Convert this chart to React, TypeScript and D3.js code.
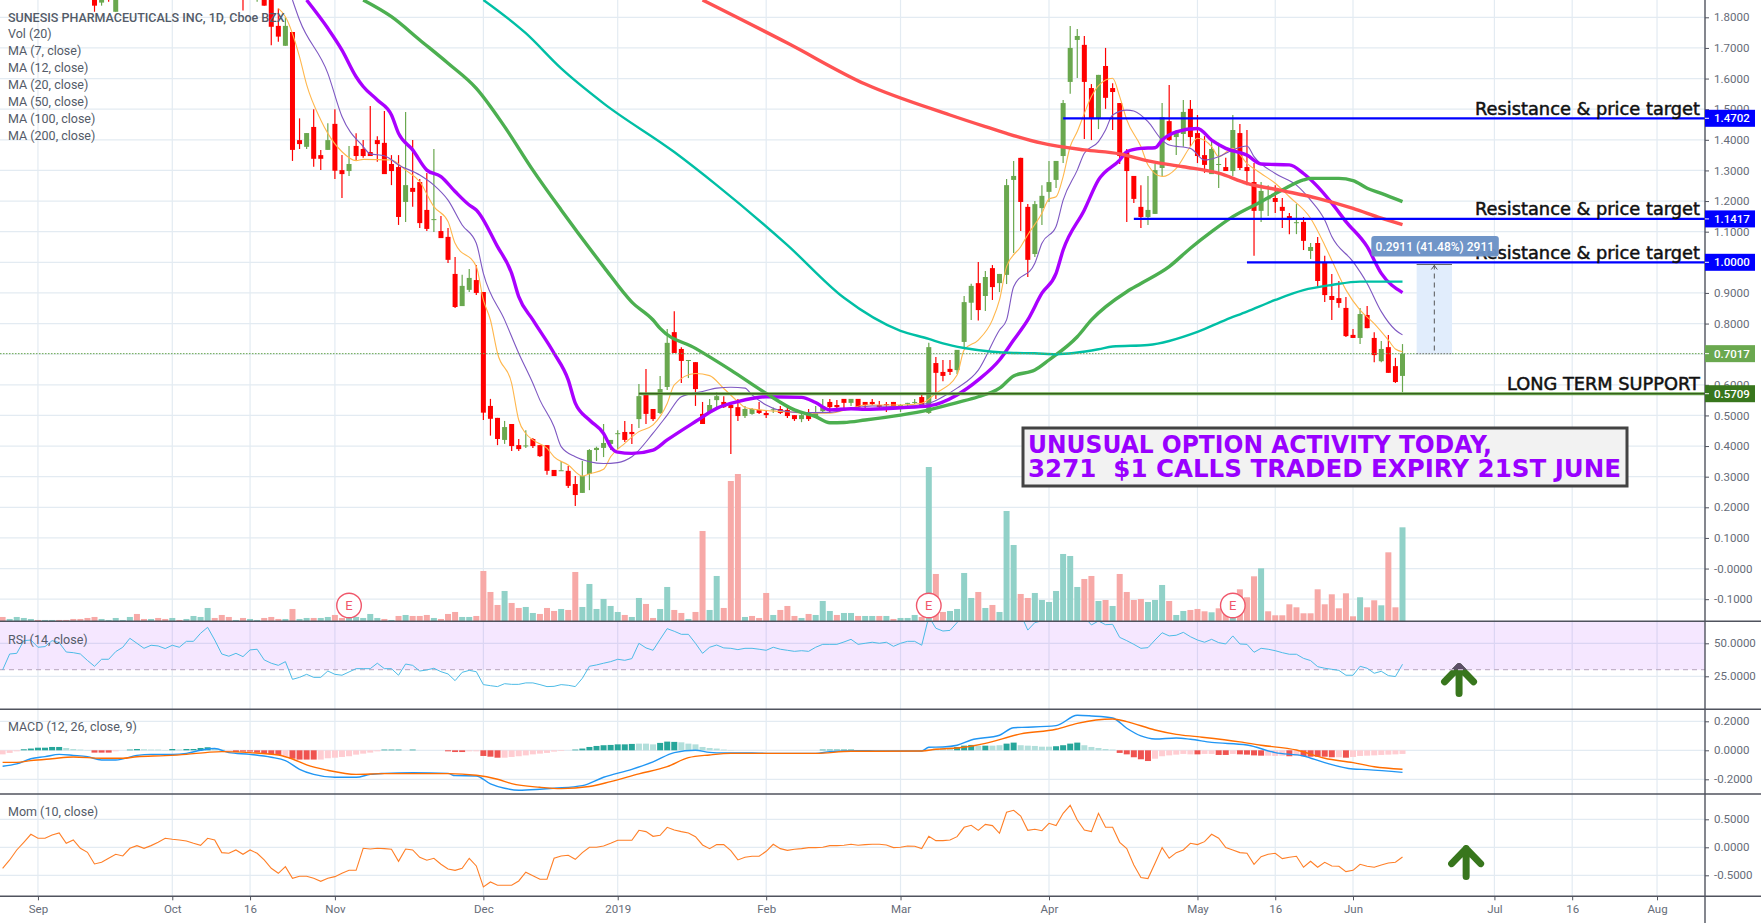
import { useEffect, useRef } from "react";
import * as d3 from "d3";

// [bar, open, high, low, close]; bars before these sit above the visible range
const candlesAutumn = [
  [13,1.87,1.88,1.818,1.838],[14,1.848,1.88,1.838,1.87],[15,1.87,1.88,1.851,1.865],[16,1.818,1.9,1.818,1.88],
  [34,1.95,1.96,1.822,1.87],[36,1.87,1.93,1.851,1.92],[37,1.92,1.93,1.838,1.838],[38,1.87,1.88,1.709,1.769],
  [39,1.772,1.829,1.72,1.737],[40,1.707,1.8,1.707,1.772],[41,1.752,1.752,1.331,1.367],[42,1.399,1.47,1.37,1.386],
  [43,1.377,1.422,1.37,1.422],[44,1.442,1.5,1.312,1.338],[45,1.35,1.367,1.301,1.338],[46,1.367,1.454,1.367,1.399],
  [47,1.452,1.5,1.272,1.299],[48,1.301,1.35,1.21,1.288],[49,1.298,1.38,1.282,1.321],[50,1.38,1.421,1.334,1.347],
  [51,1.37,1.399,1.341,1.347],[52,1.36,1.51,1.347,1.347],[53,1.399,1.412,1.328,1.386],[54,1.39,1.494,1.288,1.288],
  [55,1.321,1.35,1.252,1.298],[56,1.311,1.35,1.122,1.148],[57,1.197,1.491,1.132,1.252],[58,1.243,1.399,1.181,1.23],
  [59,1.262,1.272,1.112,1.128],[60,1.171,1.292,1.102,1.109],[61,1.139,1.37,1.099,1.141],[62,1.102,1.151,1.079,1.079],
  [63,1.083,1.112,0.998,1.008],[64,0.962,1.017,0.851,0.854],[65,0.857,0.959,0.857,0.923],[66,0.91,0.978,0.903,0.949],
  [67,0.942,0.991,0.893,0.9],
];
const candlesWinter = [
  [68,0.903,0.903,0.485,0.509],[69,0.531,0.554,0.434,0.489],[70,0.492,0.492,0.403,0.423],[71,0.42,0.482,0.407,0.462],
  [72,0.472,0.472,0.384,0.4],[73,0.403,0.423,0.384,0.39],[74,0.4,0.452,0.394,0.402],[75,0.423,0.426,0.394,0.4],
  [76,0.403,0.403,0.364,0.367],[77,0.403,0.403,0.306,0.319],[78,0.322,0.322,0.302,0.302],[79,0.319,0.351,0.319,0.321],
  [80,0.319,0.335,0.263,0.27],[81,0.276,0.302,0.204,0.24],[82,0.247,0.351,0.247,0.302],[83,0.309,0.39,0.256,0.387],
  [84,0.387,0.398,0.351,0.394],[85,0.394,0.472,0.364,0.41],[86,0.407,0.42,0.387,0.42],[87,0.439,0.452,0.39,0.442],
  [88,0.446,0.482,0.413,0.42],[89,0.446,0.472,0.407,0.439],[90,0.488,0.603,0.459,0.563],[91,0.573,0.652,0.472,0.505],
  [92,0.521,0.521,0.482,0.488],[93,0.508,0.629,0.505,0.586],[94,0.593,0.782,0.583,0.737],[95,0.772,0.84,0.704,0.704],
  [96,0.717,0.723,0.606,0.678],[97,0.679,0.681,0.622,0.681],[98,0.674,0.674,0.531,0.586],[99,0.505,0.544,0.472,0.472],
  [100,0.508,0.554,0.508,0.534],[101,0.55,0.576,0.521,0.563],[102,0.544,0.563,0.524,0.527],[103,0.534,0.539,0.374,0.524],
  [104,0.527,0.554,0.482,0.498],[105,0.498,0.531,0.492,0.521],[106,0.505,0.524,0.502,0.521],[107,0.518,0.544,0.505,0.508],
  [108,0.508,0.518,0.492,0.501],[109,0.518,0.526,0.508,0.52],[110,0.521,0.531,0.505,0.508],[111,0.518,0.534,0.492,0.498],
  [112,0.501,0.501,0.482,0.488],[113,0.488,0.505,0.478,0.501],[114,0.508,0.521,0.482,0.488],[115,0.498,0.531,0.498,0.508],
  [116,0.514,0.554,0.511,0.531],[117,0.544,0.554,0.511,0.527],[118,0.534,0.55,0.521,0.527],[119,0.554,0.554,0.521,0.541],
  [120,0.541,0.554,0.531,0.554],[121,0.554,0.554,0.521,0.527],[122,0.544,0.544,0.521,0.534],[123,0.544,0.554,0.534,0.537],
  [124,0.534,0.547,0.521,0.527],[125,0.537,0.544,0.511,0.534],[126,0.544,0.544,0.521,0.521],[127,0.521,0.537,0.511,0.534],
  [128,0.539,0.541,0.524,0.541],[129,0.541,0.554,0.537,0.544],[130,0.56,0.57,0.524,0.527],
];
const candlesSpring = [
  [131,0.508,0.737,0.505,0.723],[132,0.671,0.691,0.554,0.639],[133,0.642,0.681,0.612,0.629],[134,0.652,0.681,0.632,0.642],
  [135,0.648,0.714,0.635,0.714],[136,0.74,0.89,0.717,0.87],[137,0.868,0.93,0.812,0.923],[138,0.932,1.001,0.81,0.844],
  [139,0.89,0.972,0.841,0.952],[140,0.981,0.991,0.877,0.919],[141,0.932,0.962,0.903,0.962],[142,0.959,1.272,0.929,1.252],
  [143,1.269,1.331,1.03,1.282],[144,1.341,1.341,1.102,1.197],[145,1.181,1.19,0.952,1.008],[146,1.027,1.2,1.017,1.19],
  [147,1.177,1.252,1.122,1.217],[148,1.23,1.331,1.197,1.262],[149,1.269,1.331,1.243,1.331],[150,1.347,1.53,1.324,1.52],
  [151,1.589,1.772,1.55,1.7],[152,1.726,1.762,1.602,1.739],[153,1.71,1.739,1.403,1.589],[154,1.569,1.582,1.399,1.468],
  [155,1.468,1.612,1.435,1.612],[156,1.641,1.7,1.501,1.537],[157,1.569,1.585,1.432,1.556],[158,1.52,1.52,1.321,1.347],
  [159,1.36,1.37,1.132,1.298],[160,1.282,1.282,1.194,1.207],[161,1.181,1.252,1.112,1.148],[162,1.148,1.282,1.122,1.171],
  [163,1.158,1.321,1.158,1.301],[164,1.308,1.52,1.282,1.474],[165,1.461,1.579,1.396,1.399],[166,1.409,1.432,1.35,1.422],
  [167,1.419,1.53,1.377,1.491],[168,1.501,1.53,1.38,1.409],[169,1.422,1.481,1.324,1.347],[170,1.35,1.412,1.292,1.318],
  [171,1.288,1.399,1.288,1.37],[172,1.319,1.39,1.243,1.321],[173,1.311,1.341,1.298,1.298],[174,1.298,1.481,1.282,1.432],
  [175,1.422,1.452,1.301,1.308],[176,1.311,1.432,1.252,1.298],[177,1.262,1.324,1.021,1.168],[178,1.168,1.262,1.132,1.233],
  [179,1.207,1.252,1.151,1.209],[180,1.21,1.252,1.161,1.197],[181,1.181,1.21,1.112,1.168],[182,1.151,1.161,1.092,1.138],
  [183,1.129,1.19,1.092,1.131],[184,1.132,1.148,1.04,1.07],[185,1.037,1.063,1.011,1.05],[186,1.063,1.083,0.919,0.939],
  [187,1.001,1.021,0.87,0.893],[188,0.89,0.962,0.812,0.877],[189,0.883,0.939,0.852,0.867],[190,0.851,0.887,0.756,0.759],
  [191,0.763,0.782,0.753,0.753],[192,0.753,0.851,0.733,0.831],[193,0.828,0.857,0.785,0.785],[194,0.753,0.772,0.674,0.697],
  [195,0.677,0.743,0.674,0.717],[196,0.723,0.763,0.639,0.639],[197,0.661,0.688,0.606,0.609],[198,0.629,0.733,0.576,0.7017],
];

const volumes = [
  13,7,13,10,7,4,4,4,4,4, 7,7,10,13,7,4,10,4,13,22, 7,7,10,7,10,4,7,16,13,40, 10,19,13,4,10,7,4,10,13,7,
  7,37,7,10,10,10,13,19,10,10, 13,10,22,10,7,4,16,19,16,16, 19,10,7,22,28,13,13,16,151,88, 49,91,55,40,43,25,22,40,31,37,
  34,148,43,112,37,67,46,28,19,13, 70,52,10,37,103,34,25,7,28,271, 34,136,40,421,442,13,16,10,85,19, 34,46,16,10,22,19,61,31,19,25,
  25,16,16,16,16,16,7,10,10,19, 13,463,142,28,31,37,145,70,88,40, 49,28,331,229,82,70,85,64,58,91, 202,196,103,127,136,61,64,46,142,88,
  64,67,58,64,109,61,19,31,34,37, 30,27,39,33,20,96,72,135,159,30, 18,18,51,42,24,24,96,51,81,39, 84,15,72,42,63,48,207,42,282,
];
const volumeSides =
  "rggggrggrr" + "rrrrgggggr" + "rgrrgrgggg" + "rrrgrggrrr" + "grggrggrrg" + "ggggrgrgrr" + "rgrrrggrrr" + "rgrrggrrrg" +
  "rrggggggrg" + "grrggrrgrr" + "ggrrrgrrrg" + "rrrgrgggrg" + "grggrgrggg" + "rgrrggggrg" + "rgggrrgggg" + "gggrrgrgrr" +
  "rrgggrggrr" + "rgrrgrrrgr" + "rrrrrrrrrr" + "rrgrrgrrg";

const ma7 = [[39,1.829],[40,1.802],[42,1.671],[43,1.58],[45,1.465],[46,1.421],[48,1.361],[50,1.332],[51,1.336],[55,1.334],[57,1.301],[59,1.263],[61,1.182],[63,1.133],[64,1.062],[67,0.986],[68,0.877],[69,0.8116],[70,0.703],[72,0.605],[73,0.485],[74,0.441],[75,0.42],[77,0.393],[78,0.365],[80,0.338],[82,0.302],[83,0.309],[85,0.324],[86,0.365],[88,0.409],[90,0.447],[92,0.469],[94,0.539],[95,0.6],[98,0.637],[100,0.63],[102,0.588],[104,0.545],[105,0.526],[108,0.516],[111,0.512],[114,0.507],[117,0.507],[120,0.523],[122,0.534],[127,0.534],[130,0.54],[132,0.572],[135,0.632],[136,0.714],[138,0.746],[140,0.812],[141,0.877],[142,0.986],[144,1.051],[145,1.09],[147,1.16],[148,1.207],[149,1.214],[150,1.28],[151,1.378],[152,1.427],[153,1.486],[154,1.541],[156,1.595],[157,1.601],[158,1.541],[159,1.465],[161,1.378],[162,1.318],[164,1.28],[166,1.307],[168,1.378],[169,1.405],[171,1.378],[172,1.345],[174,1.372],[176,1.323],[178,1.29],[180,1.258],[182,1.214],[185,1.144],[187,1.056],[188,1.007],[190,0.91],[192,0.844],[194,0.8],[196,0.746],[197,0.717],[198,0.708]];
const ma12 = [[41,1.8565],[42,1.791],[46,1.617],[48,1.476],[51,1.378],[52,1.354],[54,1.348],[56,1.318],[59,1.285],[61,1.252],[63,1.203],[65,1.122],[67,1.062],[68,0.964],[71,0.812],[73,0.703],[75,0.605],[76,0.55],[78,0.463],[79,0.398],[81,0.365],[83,0.349],[85,0.343],[87,0.346],[89,0.365],[92,0.442],[94,0.501],[96,0.561],[99,0.578],[101,0.589],[103,0.592],[105,0.589],[106,0.567],[108,0.534],[110,0.516],[113,0.509],[117,0.51],[120,0.523],[123,0.531],[127,0.529],[131,0.54],[133,0.561],[135,0.589],[138,0.648],[141,0.779],[142,0.812],[143,0.92],[146,0.997],[147,1.062],[149,1.117],[150,1.203],[152,1.301],[153,1.356],[155,1.394],[156,1.432],[157,1.481],[159,1.497],[160,1.494],[162,1.459],[164,1.399],[165,1.383],[168,1.372],[170,1.334],[172,1.345],[174,1.367],[176,1.38],[177,1.345],[180,1.29],[183,1.252],[185,1.203],[187,1.138],[188,1.084],[191,1.002],[193,0.931],[195,0.839],[197,0.779],[198,0.763]];
const ma20 = [[43,1.8565],[46,1.764],[48,1.693],[50,1.606],[51,1.574],[53,1.53],[55,1.481],[56,1.421],[58,1.367],[60,1.301],[62,1.28],[64,1.231],[66,1.187],[67,1.171],[70,1.051],[72,0.964],[73,0.888],[75,0.812],[78,0.703],[80,0.616],[81,0.54],[83,0.485],[85,0.441],[86,0.398],[87,0.38],[89,0.376],[92,0.387],[94,0.42],[98,0.48],[101,0.523],[104,0.545],[108,0.561],[113,0.559],[115,0.542],[117,0.518],[120,0.522],[122,0.52],[127,0.525],[131,0.531],[135,0.567],[138,0.616],[141,0.681],[143,0.746],[145,0.812],[147,0.899],[149,0.964],[150,1.04],[153,1.171],[155,1.269],[158,1.334],[159,1.361],[161,1.372],[163,1.374],[164,1.399],[166,1.426],[169,1.437],[171,1.399],[173,1.372],[176,1.35],[178,1.321],[182,1.318],[184,1.29],[186,1.247],[188,1.193],[190,1.133],[193,1.051],[195,0.964],[198,0.901]];
const ma50 = [[51,1.8565],[55,1.802],[59,1.726],[63,1.65],[67,1.568],[71,1.443],[75,1.301],[79,1.171],[85,0.986],[89,0.87],[92,0.8116],[93,0.784],[98,0.719],[103,0.648],[108,0.572],[112,0.518],[115,0.496],[117,0.476],[119,0.477],[122,0.485],[127,0.501],[131,0.518],[135,0.542],[138,0.561],[141,0.589],[143,0.629],[146,0.648],[148,0.681],[152,0.757],[154,0.812],[159,0.904],[161,0.931],[165,0.986],[168,1.046],[171,1.1],[174,1.149],[178,1.198],[181,1.236],[184,1.269],[185,1.274],[189,1.274],[191,1.267],[193,1.242],[195,1.225],[198,1.198]];
const ma100 = [[68,1.8565],[74,1.748],[79,1.633],[85,1.519],[95,1.36],[101,1.252],[111,1.056],[119,0.884],[127,0.776],[131,0.75],[133,0.735],[136,0.72],[140,0.708],[143,0.704],[146,0.703],[149,0.7],[155,0.716],[157,0.725],[162,0.73],[169,0.773],[173,0.812],[176,0.839],[180,0.877],[184,0.909],[188,0.926],[192,0.937],[198,0.937]];
const ma200 = [[99,1.8565],[111,1.716],[122,1.582],[134,1.481],[139,1.443],[142,1.421],[147,1.389],[153,1.367],[158,1.354],[162,1.331],[167,1.312],[172,1.291],[176,1.258],[181,1.234],[186,1.209],[191,1.176],[195,1.144],[198,1.123]];

const rsiValues = [
  29.8,41.9,42.4,52,52.5,47,47.5,52,50.5,43.4, 42.9,41.9,37,32.6,37.9,37.9,43.7,47,53.8,50,
  46.2,48.5,48,46,48.5,47,51.5,51.5,57.6,62.1, 52.5,41.9,40.2,42.4,39.9,45,45.5,37.4,34.9,33.3,
  36.1,22.7,24.2,26.5,24.2,24.2,29,26.5,25.8,28.3, 30.8,30.8,30.8,34.9,30.8,30.8,25.8,34.3,33.3,29,
  29.8,31.1,28.5,26.8,21.7,28,29.5,28.5,18.7,17.9, 17.2,19.4,18.9,18.9,20,20,18.7,17.2,17.4,18.7,
  18.2,17.2,23.5,32.6,33.6,34.9,36.1,37.9,37.1,38.4, 50,46.5,44.7,53,61.1,59.1,56.8,56.8,50,42.4,
  47,48.7,46.5,46.2,45.2,46.2,46.2,45.5,44.7,47, 45.5,44.7,43.9,44.4,43.9,47,49.2,49.2,49.2,51,
  53,49.2,50,50.8,50,50.8,47.7,50,51.5,51.5, 48.5,70.2,61.4,59.3,59.8,65.7,71.5,72.7,74,75,
  76,76,80,80,72,60,65.7,67,70,71, 78,82,79,70,63.9,66.9,64.1,64.4,54.5,52,
  49.2,46.2,46.7,52.5,58,55.6,56.1,58.3,55,52.5, 50.8,53,50.5,49.5,55.6,49.5,49.2,43.2,46.2,45.5,
  44.4,42.9,41.7,41.7,38.6,36.9,32.3,31.1,30.3,29.5, 25.8,25.8,32.6,31.1,27.3,28.8,25.5,24.8,34.1,
];
const momValues = [
  -0.375,-0.226,-0.048,0.089,0.232,0.161,0.161,0.22,0.256,0.071, 0.131,-0.018,-0.089,-0.298,-0.268,-0.196,-0.125,-0.155,-0.018,0.03,
  -0.018,0.03,0.089,0.161,0.143,0.131,0.113,0.071,0.036,0.161, 0.131,-0.095,-0.107,-0.048,-0.125,-0.048,-0.107,-0.226,-0.375,-0.464,
  -0.345,-0.553,-0.518,-0.518,-0.553,-0.607,-0.553,-0.524,-0.464,-0.411, -0.411,-0.018,-0.03,-0.018,-0.024,-0.036,-0.25,-0.03,-0.048,-0.179,
  -0.232,-0.196,-0.303,-0.387,-0.411,-0.375,-0.196,-0.333,-0.708,-0.619, -0.678,-0.678,-0.678,-0.601,-0.446,-0.506,-0.571,-0.571,-0.196,-0.155,
  -0.143,-0.214,-0.095,0,0,0.024,0.071,0.125,0.125,0.125, 0.303,0.28,0.196,0.214,0.357,0.309,0.28,0.256,0.19,0.042,
  -0.024,0.048,0.048,-0.06,-0.226,-0.179,-0.161,-0.161,-0.071,0.054, -0.024,-0.054,-0.036,-0.024,-0.006,-0.006,0,0.03,0.03,0.036,
  0.054,0.036,0.048,0.054,0.054,0.042,-0.006,0,0.024,0.018, -0.024,0.196,0.119,0.119,0.131,0.19,0.357,0.393,0.303,0.41,
  0.387,0.25,0.625,0.66,0.559,0.303,0.321,0.297,0.428,0.387, 0.607,0.75,0.488,0.309,0.28,0.607,0.357,0.357,0.089,-0.024,
  -0.315,-0.541,-0.559,-0.286,-0.006,-0.196,-0.095,-0.048,0.071,0.048, 0.101,0.232,0.161,-0.006,-0.048,-0.095,-0.107,-0.303,-0.167,-0.125,
  -0.107,-0.202,-0.179,-0.161,-0.357,-0.25,-0.357,-0.268,-0.333,-0.339, -0.434,-0.411,-0.303,-0.339,-0.357,-0.315,-0.28,-0.268,-0.173,
];
const macdLine = [[0,-0.11],[2,-0.094],[4,-0.058],[6,-0.044],[8,-0.028],[10,-0.035],[12,-0.044],[14,-0.067],[16,-0.067],[19,-0.035],[21,-0.028],[24,-0.028],[26,-0.021],[28,0],[30,0.012],[32,-0.016],[35,-0.028],[38,-0.048],[40,-0.071],[42,-0.131],[44,-0.166],[47,-0.186],[50,-0.186],[52,-0.166],[54,-0.159],[58,-0.154],[63,-0.159],[64,-0.175],[67,-0.177],[69,-0.232],[71,-0.262],[73,-0.276],[76,-0.269],[78,-0.262],[82,-0.244],[85,-0.186],[89,-0.131],[92,-0.08],[95,-0.016],[98,0],[100,-0.014],[102,-0.018],[106,-0.018],[108,-0.021],[115,-0.021],[117,-0.009],[121,-0.002],[124,-0.005],[130,-0.005],[131,0.021],[133,0.023],[135,0.035],[137,0.071],[141,0.104],[143,0.156],[145,0.159],[149,0.17],[152,0.242],[154,0.237],[157,0.223],[159,0.152],[161,0.099],[163,0.078],[166,0.085],[168,0.076],[171,0.055],[176,0.037],[180,-0.016],[184,-0.039],[187,-0.085],[191,-0.129],[193,-0.133],[198,-0.152]];
const signalLine = [[0,-0.083],[2,-0.083],[4,-0.071],[7,-0.058],[10,-0.046],[14,-0.055],[17,-0.055],[19,-0.044],[23,-0.037],[26,-0.028],[29,-0.014],[31,-0.009],[35,-0.016],[39,-0.032],[41,-0.06],[43,-0.101],[46,-0.138],[50,-0.166],[54,-0.161],[63,-0.161],[67,-0.172],[70,-0.2],[72,-0.23],[76,-0.255],[79,-0.264],[83,-0.25],[86,-0.216],[90,-0.163],[94,-0.113],[97,-0.051],[100,-0.032],[103,-0.021],[115,-0.021],[120,-0.007],[124,-0.007],[130,-0.005],[132,0.007],[136,0.021],[139,0.048],[144,0.113],[149,0.145],[152,0.186],[157,0.216],[159,0.198],[163,0.14],[166,0.11],[169,0.094],[175,0.058],[178,0.035],[183,0.002],[187,-0.055],[191,-0.085],[194,-0.113],[198,-0.131]];
const macdHist = [
  -0.028,-0.018,-0.007,0.007,0.012,0.018,0.018,0.023,0.023,0.016, 0.009,0.005,0.002,-0.016,-0.016,-0.016,-0.007,0,0.005,0.009,
  0.007,0.005,0.005,0.002,0.009,0.005,0.009,0.009,0.016,0.021, 0.009,0.005,-0.005,-0.012,-0.009,-0.009,-0.016,-0.023,-0.028,-0.032,
  -0.041,-0.058,-0.064,-0.064,-0.064,-0.064,-0.055,-0.051,-0.046,-0.041, -0.03,-0.023,-0.016,-0.007,0.005,0.005,0.005,0,0.005,0,
  0,0,0,-0.007,-0.012,-0.012,-0.007,-0.007,-0.039,-0.044, -0.051,-0.051,-0.046,-0.041,-0.035,-0.028,-0.023,-0.018,-0.009,-0.005,
  0,0.005,0.012,0.023,0.03,0.035,0.037,0.041,0.041,0.044, 0.046,0.046,0.041,0.051,0.06,0.058,0.055,0.046,0.041,0.023,
  0.016,0.012,0.005,0.002,0,0,0,0,0,0, 0,0,0,0,0,0,0.005,0.005,0.005,0.005,
  0.005,0.002,0.002,0.002,0.002,0.002,0.002,0.002,0.002,0.002, 0.002,0.005,0.012,0.014,0.014,0.023,0.032,0.037,0.032,0.032,
  0.032,0.035,0.046,0.053,0.035,0.032,0.03,0.025,0.025,0.028, 0.035,0.046,0.053,0.035,0.023,0.016,0.009,0.005,-0.018,-0.028,
  -0.048,-0.062,-0.074,-0.058,-0.041,-0.035,-0.03,-0.025,-0.028,-0.028, -0.025,-0.025,-0.032,-0.032,-0.025,-0.028,-0.03,-0.035,-0.037,-0.037,
  -0.039,-0.037,-0.041,-0.037,-0.041,-0.044,-0.044,-0.044,-0.048,-0.048, -0.051,-0.046,-0.039,-0.037,-0.035,-0.032,-0.03,-0.028,-0.025,
];
const histStrongRanges = [[3,8],[13,15],[18,19],[24,24],[26,29],[33,39],[41,44],[54,56],[58,58],[63,65],[68,70],[81,89],[93,95],[116,121],[135,137],[139,139],[142,143],[149,152],[158,162],[169,169],[172,173],[175,178],[182,182],[184,188],[190,190]];

const priceTicks = [1.8,1.7,1.6,1.5,1.4,1.3,1.2,1.1,0.9,0.8,0.6,0.5,0.4,0.3,0.2,0.1,0,-0.1];
const priceGrid = [1.8,1.7,1.6,1.5,1.4,1.3,1.2,1.1,1,0.9,0.8,0.7,0.6,0.5,0.4,0.3,0.2,0.1,0,-0.1];
const rsiTicks = [50,25];
const macdTicks = [0.2,0,-0.2];
const momTicks = [0.5,0,-0.5];
const timeBars = [5,24,35,47,68,87,108,127,148,169,180,191,211,222,234];
const timeLabels = ["Sep","Oct","16","Nov","Dec","2019","Feb","Mar","Apr","May","16","Jun","Jul","16","Aug"];
const legendLines = ["Vol (20)","MA (7, close)","MA (12, close)","MA (20, close)","MA (50, close)","MA (100, close)","MA (200, close)"];
const levelLines = [
  { price: 1.4702, bar: 150, color: "#0000ff" },
  { price: 1.1417, bar: 160, color: "#0000ff" },
  { price: 1.0, bar: 176, color: "#0000ff" },
  { price: 0.5709, bar: 90, color: "#38761d" },
];
const earningsBars = [49,131,174];
const lastPrice = 0.7017;
const measureBars = [200,205];
const FONT = "Roboto, sans-serif";
const BOLD = "'DejaVu Sans', sans-serif";

export default function App() {
  const svgRef = useRef<SVGSVGElement | null>(null);

  useEffect(() => {
    const width = 1761;
    const height = 923;
    const plotRight = 1705;
    const paneTop = [0, 621.3, 709.3, 794, 896.3];
    const svg = d3.select(svgRef.current);
    svg.selectAll("*").remove();
    svg.attr("width", width).attr("height", height).style("background", "#fff");

    const x = d3.scaleLinear().domain([0, 198]).range([2.6, 1402.5]);
    const yPrice = d3.scaleLinear().domain([1, 0.2]).range([262.3, 507.3]);
    const yVol = d3.scaleLinear().domain([0, 463]).range([621.3, 467]);
    const yRsi = d3.scaleLinear().domain([50, 25]).range([643.3, 676.3]);
    const yMacd = d3.scaleLinear().domain([0.2, -0.2]).range([721.3, 779.3]);
    const yMom = d3.scaleLinear().domain([0.5, -0.5]).range([819.3, 875.3]);

    const defs = svg.append("defs");
    paneTop.slice(0, 4).forEach((top, i) => {
      defs.append("clipPath").attr("id", `pane${i}`).append("rect")
        .attr("x", 0).attr("y", top).attr("width", plotRight).attr("height", paneTop[i + 1] - top);
    });
    defs.append("clipPath").attr("id", "rsiBand").append("rect")
      .attr("x", 0).attr("y", paneTop[1]).attr("width", plotRight).attr("height", yRsi(30) - paneTop[1]);

    // grid
    const grid = svg.append("g").attr("stroke", "#e3ebf2").attr("stroke-width", 1.2);
    const hLines = [
      ...priceGrid.map((d) => yPrice(d)),
      ...rsiTicks.map((d) => yRsi(d)),
      ...macdTicks.map((d) => yMacd(d)),
      ...momTicks.map((d) => yMom(d)),
    ];
    grid.selectAll("line.h").data(hLines).join("line").attr("class", "h")
      .attr("x1", 0).attr("x2", plotRight).attr("y1", (d) => d).attr("y2", (d) => d);
    grid.selectAll("line.v").data(timeBars).join("line").attr("class", "v")
      .attr("x1", (d) => x(d)).attr("x2", (d) => x(d)).attr("y1", 0).attr("y2", paneTop[4]);

    // volume
    const barW = 6;
    svg.append("g").selectAll("rect").data(volumes).join("rect")
      .attr("x", (_, i) => x(i) - barW / 2)
      .attr("width", barW)
      .attr("y", (d) => yVol(d))
      .attr("height", (d) => yVol(0) - yVol(d))
      .attr("fill", (_, i) => (volumeSides[i] === "g" ? "#91d1c8" : "#f7a9a7"));

    // candles and moving averages
    const main = svg.append("g").attr("clip-path", "url(#pane0)");
    const candles = [...candlesAutumn, ...candlesWinter, ...candlesSpring];
    const candleColor = (d: number[]) => (d[4] >= d[1] ? "#6aa84f" : "#ff0000");
    main.append("g").selectAll("line").data(candles).join("line")
      .attr("x1", (d) => x(d[0])).attr("x2", (d) => x(d[0]))
      .attr("y1", (d) => yPrice(d[2])).attr("y2", (d) => yPrice(d[3]))
      .attr("stroke", candleColor).attr("stroke-width", 1.2);
    main.append("g").selectAll("rect").data(candles).join("rect")
      .attr("x", (d) => x(d[0]) - 2.5).attr("width", 5)
      .attr("y", (d) => yPrice(Math.max(d[1], d[4])))
      .attr("height", (d) => Math.max(1, Math.abs(yPrice(d[1]) - yPrice(d[4]))))
      .attr("fill", candleColor);

    const priceLine = d3.line<number[]>().x((d) => x(d[0])).y((d) => yPrice(d[1])).curve(d3.curveMonotoneX);
    const maStyles: [number[][], string, number][] = [
      [ma7, "#ffb74d", 1.1],
      [ma12, "#7e57c2", 1.1],
      [ma20, "#aa00ff", 3.4],
      [ma50, "#4caf50", 3.4],
      [ma100, "#00bfa5", 2.4],
      [ma200, "#ff5252", 3.4],
    ];
    maStyles.forEach(([pts, color, w]) => {
      main.append("path").attr("d", priceLine(pts)).attr("fill", "none").attr("stroke", color).attr("stroke-width", w);
    });

    // last price and drawn levels
    main.append("line").attr("x1", 0).attr("x2", plotRight)
      .attr("y1", yPrice(lastPrice)).attr("y2", yPrice(lastPrice))
      .attr("stroke", "#6aa84f").attr("stroke-dasharray", "1.5,1.5");
    levelLines.forEach((l) => {
      main.append("line").attr("x1", x(l.bar)).attr("x2", plotRight)
        .attr("y1", yPrice(l.price)).attr("y2", yPrice(l.price))
        .attr("stroke", l.color === "#38761d" ? "#6aa84f" : l.color).attr("stroke-width", l.color === "#38761d" ? 3 : 2.2);
      if (l.color === "#38761d") {
        main.append("line").attr("x1", x(l.bar)).attr("x2", plotRight)
          .attr("y1", yPrice(l.price)).attr("y2", yPrice(l.price))
          .attr("stroke", "#38611d").attr("stroke-width", 1.2);
      }
    });

    // measure tool
    const mHigh = lastPrice + 0.2911;
    const mx0 = x(measureBars[0]);
    const mx1 = x(measureBars[1]);
    const mMid = (mx0 + mx1) / 2;
    main.append("rect").attr("x", mx0).attr("width", mx1 - mx0)
      .attr("y", yPrice(mHigh)).attr("height", yPrice(lastPrice) - yPrice(mHigh)).attr("fill", "#e1edfc");
    main.append("line").attr("x1", mx0).attr("x2", mx1).attr("y1", yPrice(mHigh)).attr("y2", yPrice(mHigh)).attr("stroke", "#666");
    main.append("line").attr("x1", mx0).attr("x2", mx1).attr("y1", yPrice(lastPrice)).attr("y2", yPrice(lastPrice)).attr("stroke", "#777").attr("stroke-dasharray", "1.5,1.5");
    main.append("line").attr("x1", mMid).attr("x2", mMid).attr("y1", yPrice(mHigh)).attr("y2", yPrice(lastPrice))
      .attr("stroke", "#555").attr("stroke-dasharray", "5,4");
    main.append("path").attr("d", `M${mMid - 3},${yPrice(mHigh) + 5}L${mMid},${yPrice(mHigh) + 1}L${mMid + 3},${yPrice(mHigh) + 5}`)
      .attr("fill", "none").attr("stroke", "#555");

    // text annotations
    const notes: [string, number][] = [
      ["Resistance & price target", 115],
      ["Resistance & price target", 215],
      ["Resistance & price target", 259],
      ["LONG TERM SUPPORT", 390],
    ];
    notes.forEach(([t, baseY]) => {
      svg.append("text").attr("x", 1700).attr("y", baseY).attr("text-anchor", "end")
        .attr("font-family", BOLD).attr("font-size", 17.8).attr("font-weight", 400)
        .attr("stroke", "#111").attr("stroke-width", 0.5).attr("fill", "#111").text(t);
    });

    // measure label goes over the note
    svg.append("rect").attr("x", mMid - 63).attr("y", yPrice(mHigh) - 28.5).attr("width", 127.5).attr("height", 20.5)
      .attr("rx", 3).attr("fill", "#6b92c6").attr("fill-opacity", 0.97);
    svg.append("text").attr("x", mMid + 0.5).attr("y", yPrice(mHigh) - 14).attr("text-anchor", "middle")
      .attr("font-family", FONT).attr("font-size", 12).attr("font-weight", 500).attr("fill", "#fff")
      .text("0.2911 (41.48%) 2911");

    // option box
    svg.append("rect").attr("x", 1023).attr("y", 428).attr("width", 604).attr("height", 58)
      .attr("fill", "#f2f2f2").attr("stroke", "#434343").attr("stroke-width", 3);
    const boxText: [string, number, number][] = [
      ["UNUSUAL OPTION ACTIVITY TODAY,", 453, 464],
      ["3271  $1 CALLS TRADED EXPIRY 21ST JUNE", 477, 593],
    ];
    boxText.forEach(([t, baseY, len]) => {
      svg.append("text").attr("x", 1028).attr("y", baseY).style("white-space", "pre")
        .attr("font-family", BOLD).attr("font-weight", 700).attr("font-size", 24).attr("fill", "#9900ff")
        .attr("lengthAdjust", "spacingAndGlyphs").attr("textLength", len).text(t);
    });

    // earnings markers
    const em = svg.append("g");
    em.selectAll("circle").data(earningsBars).join("circle")
      .attr("cx", (d) => x(d)).attr("cy", 605.5).attr("r", 12.3)
      .attr("fill", "#fff").attr("stroke", "#f0566a").attr("stroke-width", 1.4);
    em.selectAll("text").data(earningsBars).join("text")
      .attr("x", (d) => x(d)).attr("y", 610).attr("text-anchor", "middle")
      .attr("font-family", FONT).attr("font-size", 13).attr("fill", "#f0566a").text("E");

    // arrows, the RSI one reads grey where the band covers it
    const drawArrow = (cx: number, top: number, bottom: number, color = "#38761d", clip?: string) => {
      const p = d3.path();
      p.moveTo(cx, bottom);
      p.lineTo(cx, top + 3);
      p.moveTo(cx - 14.5, top + 18);
      p.lineTo(cx, top + 3);
      p.lineTo(cx + 14.5, top + 18);
      const arrow = svg.append("path").attr("d", p.toString()).attr("fill", "none").attr("stroke", color)
        .attr("stroke-width", 7).attr("stroke-linejoin", "round").attr("stroke-linecap", "round");
      if (clip) arrow.attr("clip-path", clip);
    };
    drawArrow(x(206), yRsi(34.5), yRsi(12));
    drawArrow(x(206), yRsi(34.5), yRsi(12), "#555", "url(#rsiBand)");
    drawArrow(x(207), yMom(0.03), yMom(-0.52));

    // RSI pane
    svg.append("rect").attr("x", 0).attr("y", paneTop[1]).attr("width", plotRight).attr("height", yRsi(30) - paneTop[1])
      .attr("fill", "#9915ff").attr("fill-opacity", 0.1);
    svg.append("line").attr("x1", 0).attr("x2", plotRight).attr("y1", yRsi(30)).attr("y2", yRsi(30))
      .attr("stroke", "#c3b3c9").attr("stroke-width", 1.2).attr("stroke-dasharray", "5,4");
    const rsiPath = d3.line<number>().x((_, i) => x(i)).y((d) => yRsi(d));
    svg.append("path").attr("clip-path", "url(#pane1)").attr("d", rsiPath(rsiValues))
      .attr("fill", "none").attr("stroke", "#4dbbe6").attr("stroke-width", 1);

    // MACD pane
    const macdPane = svg.append("g").attr("clip-path", "url(#pane2)");
    const isStrong = (i: number) => histStrongRanges.some(([a, b]) => i >= a && i <= b);
    macdPane.selectAll("rect").data(macdHist).join("rect")
      .attr("x", (_, i) => x(i) - 3).attr("width", 6)
      .attr("y", (d) => yMacd(Math.max(d, 0)))
      .attr("height", (d) => Math.abs(yMacd(d) - yMacd(0)))
      .attr("fill", (d, i) => (d >= 0 ? (isStrong(i) ? "#26a69a" : "#b2dfdb") : isStrong(i) ? "#ef5350" : "#ffcdd2"));
    const macdPath = d3.line<number[]>().x((d) => x(d[0])).y((d) => yMacd(d[1])).curve(d3.curveMonotoneX);
    macdPane.append("path").attr("d", macdPath(macdLine)).attr("fill", "none").attr("stroke", "#2196f3").attr("stroke-width", 1.4);
    macdPane.append("path").attr("d", macdPath(signalLine)).attr("fill", "none").attr("stroke", "#ff6d00").attr("stroke-width", 1.4);

    // Momentum pane
    const momPath = d3.line<number>().x((_, i) => x(i)).y((d) => yMom(d));
    svg.append("path").attr("clip-path", "url(#pane3)").attr("d", momPath(momValues))
      .attr("fill", "none").attr("stroke", "#ff7f27").attr("stroke-width", 1.1);

    // pane borders
    const borders = svg.append("g").attr("stroke", "#50535e").attr("stroke-width", 1.4);
    paneTop.slice(1).forEach((y) => {
      borders.append("line").attr("x1", 0).attr("x2", width).attr("y1", y).attr("y2", y);
    });
    borders.append("line").attr("x1", plotRight).attr("x2", plotRight).attr("y1", 0).attr("y2", height);

    // right axes
    const styleAxis = (g: d3.Selection<SVGGElement, unknown, null, undefined>) => {
      g.select(".domain").remove();
      g.selectAll("line").attr("stroke", "#50535e");
      g.selectAll("text").attr("font-family", FONT).attr("font-size", 11.5).attr("fill", "#666c78");
    };
    const addAxis = (scale: d3.ScaleLinear<number, number>, ticks: number[], fmt: (d: number) => string) => {
      svg.append("g").attr("transform", `translate(${plotRight},0)`)
        .call(d3.axisRight(scale).tickValues(ticks).tickSize(4).tickPadding(5).tickFormat((d) => fmt(+d)) as any)
        .call(styleAxis as any);
    };
    const fourDp = d3.format(".4f");
    addAxis(yPrice, priceTicks, (d) => (d === 0 ? "-0.0000" : fourDp(d).replace("−", "-")));
    addAxis(yRsi, rsiTicks, fourDp);
    addAxis(yMacd, macdTicks, (d) => fourDp(d).replace("−", "-"));
    addAxis(yMom, momTicks, (d) => fourDp(d).replace("−", "-"));

    // price labels
    const priceLabels: [number, string][] = [
      [1.4702, "#0000ff"],
      [1.1417, "#0000ff"],
      [1.0, "#0000ff"],
      [0.7017, "#6aa84f"],
      [0.5709, "#38761d"],
    ];
    priceLabels.forEach(([p, color]) => {
      svg.append("rect").attr("x", plotRight).attr("y", yPrice(p) - 8.5).attr("width", 50).attr("height", 17).attr("fill", color);
      svg.append("line").attr("x1", plotRight).attr("x2", plotRight + 4).attr("y1", yPrice(p)).attr("y2", yPrice(p)).attr("stroke", "#fff");
      svg.append("text").attr("x", plotRight + 9).attr("y", yPrice(p) + 4).attr("font-family", FONT).attr("font-weight", 500)
        .attr("font-size", 11.5).attr("fill", "#fff").text(fourDp(p));
    });

    // time axis
    svg.append("g").attr("transform", `translate(0,${paneTop[4]})`)
      .call(d3.axisBottom(x).tickValues(timeBars).tickSize(4).tickPadding(5).tickFormat((_, i) => timeLabels[i]) as any)
      .call(styleAxis as any);

    // legends
    const addLegend = (t: string, y: number, weight = 400) => {
      svg.append("text").attr("x", 8).attr("y", y).attr("font-family", FONT).attr("font-size", 12.5)
        .attr("font-weight", weight).attr("fill", "#535b68").text(t);
    };
    addLegend("SUNESIS PHARMACEUTICALS INC, 1D, Cboe BZX", 21.5, 500);
    legendLines.forEach((t, i) => addLegend(t, 38 + i * 17));
    addLegend("RSI (14, close)", 643.5);
    addLegend("MACD (12, 26, close, 9)", 731);
    addLegend("Mom (10, close)", 816);
  }, []);

  return (
    <div style={{ position: "fixed", top: 0, left: 0 }}>
      <svg ref={svgRef} style={{ display: "block" }} />
    </div>
  );
}
